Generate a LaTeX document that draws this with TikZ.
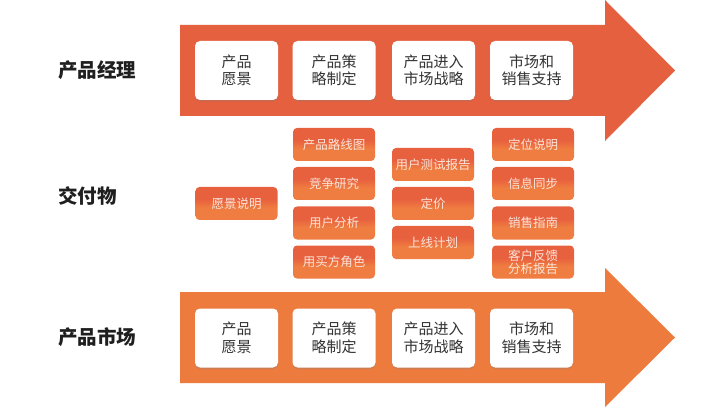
\documentclass[tikz,border=0pt]{standalone}
\usepackage{fontspec}
\setmainfont{Noto Sans CJK SC}
\usetikzlibrary{shadows}
\definecolor{toparrow}{HTML}{E5603F}
\definecolor{botarrow}{HTML}{EC7B3D}
\definecolor{dred}{HTML}{E8613F}
\definecolor{dorg}{HTML}{EF7C40}
\definecolor{txtgray}{HTML}{333333}
\definecolor{delivtxt}{HTML}{FBE4D8}
\pgfdeclareverticalshading{delivshade}{100bp}{color(0bp)=(dorg); color(44bp)=(dorg); color(56bp)=(dred); color(100bp)=(dred)}
\begin{document}
\begin{tikzpicture}[x=1pt,y=-1pt,
  stagebox/.style={fill=white, rounded corners=5pt, minimum width=83pt, minimum height=59pt,
    align=center, font=\fontsize{15}{17.5}\selectfont, text=txtgray, inner sep=0pt,
    drop shadow={opacity=0.3, shadow xshift=0pt, shadow yshift=-1.5pt}},
  delivbox/.style={rounded corners=4pt, shading=delivshade, minimum width=82pt,
    minimum height=33pt, align=center, font=\fontsize{12.5}{12.5}\selectfont, text=delivtxt, inner sep=0pt},
  rowlabel/.style={font=\fontsize{19.5}{20}\selectfont\bfseries, text=black!88, anchor=west, inner sep=0pt}]
\useasboundingbox[fill=white] (0,0) rectangle (720,414);
% arrows
\fill[toparrow] (180,25) -- (605,25) -- (605,0) -- (675,70.5) -- (605,141) -- (605,116) -- (180,116) -- cycle;
\fill[botarrow] (180,292) -- (605,292) -- (605,268) -- (675,337.5) -- (605,407) -- (605,383) -- (180,383) -- cycle;
% row labels
\node[rowlabel] (l1) at (58,70) {产品经理};
\node[rowlabel] (l2) at (58,196) {交付物};
\node[rowlabel] (l3) at (58,337) {产品市场};
% top stages
\node[stagebox] (t1) at (236.5,70.5) {产品\\愿景};
\node[stagebox] (t2) at (334,70.5) {产品策\\略制定};
\node[stagebox] (t3) at (433.5,70.5) {产品进入\\市场战略};
\node[stagebox] (t4) at (531.5,70.5) {市场和\\销售支持};
% bottom stages
\node[stagebox] (b1) at (236.5,338) {产品\\愿景};
\node[stagebox] (b2) at (334,338) {产品策\\略制定};
\node[stagebox] (b3) at (433.5,338) {产品进入\\市场战略};
\node[stagebox] (b4) at (531.5,338) {市场和\\销售支持};
% deliverables
\node[delivbox] (d01) at (236.5,203.5) {愿景说明};
\node[delivbox] (d11) at (334,144.5) {产品路线图};
\node[delivbox] (d12) at (334,183.5) {竞争研究};
\node[delivbox] (d13) at (334,223) {用户分析};
\node[delivbox] (d14) at (334,262) {用买方角色};
\node[delivbox] (d21) at (433,164.5) {用户测试报告};
\node[delivbox] (d22) at (433,203.5) {定价};
\node[delivbox] (d23) at (433,242.5) {上线计划};
\node[delivbox] (d31) at (533,144.5) {定位说明};
\node[delivbox] (d32) at (533,183.5) {信息同步};
\node[delivbox] (d33) at (533,223) {销售指南};
\node[delivbox] (d34) at (533,262) {客户反馈\\分析报告};
\end{tikzpicture}
\end{document}
